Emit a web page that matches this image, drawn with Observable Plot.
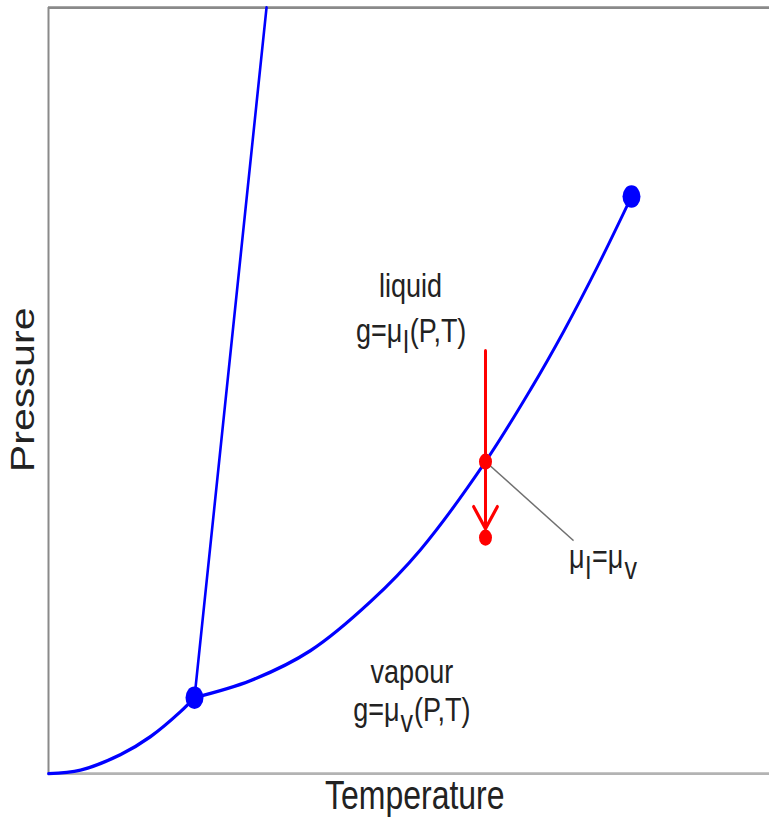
<!DOCTYPE html>
<html>
<head>
<meta charset="utf-8">
<script src="https://cdn.jsdelivr.net/npm/d3@7"></script>
<script src="https://cdn.jsdelivr.net/npm/@observablehq/plot@0.6"></script>
<style>
  html, body { margin: 0; padding: 0; background: #fff; overflow: hidden; }
  #chart { width: 769px; height: 822px; }
</style>
</head>
<body>
<div id="chart"></div>
<script>
// ---- data (Temperature / Pressure in arbitrary units 0..100) ----
const subT = [0, 4.44, 9.99, 14.15, 18.31, 20.25];
const subP = [0, 0.46, 2.48, 4.83, 8.09, 9.92];

const vapT = [20.25, 28.02, 36.34, 44.66, 51.60, 60.61, 66.85, 71.43, 76.14, 80.86];
const vapP = [9.92, 12.14, 16.06, 22.45, 29.24, 40.73, 50.13, 57.70, 66.19, 75.33];

const meltT = [20.25, 30.24];
const meltP = [9.92, 100];

const blueDotT = [20.25, 80.86];   // triple point, critical point
const blueDotP = [9.92, 75.33];

const redDotT = [60.61, 60.61];
const redDotP = [40.73, 30.81];

const arrowT = [60.61, 60.61];     // start, tip
const arrowP = [55.2, 31.98];

const leaderT = [60.61, 72.82];
const leaderP = [40.73, 30.42];

const labelText = ["liquid", "g=μ_l(P,T)", "vapour", "g=μ_v(P,T)", "μ_l=μ_v"];
const labelT = [50.2, 50.3, 50.4, 50.4, 76.9];
const labelP = [63.6, 57.8, 13.3, 8.3, 28.3];

const xLabel = "Temperature";
const yLabel = "Pressure";
const xLabelT = 50.8;
const yLabelP = 50.1;

// ---- build tables ----
const sub = subT.map((t, i) => ({T: t, P: subP[i]}));
const vap = vapT.map((t, i) => ({T: t, P: vapP[i]}));
const melt = meltT.map((t, i) => ({T: t, P: meltP[i]}));
const blueDots = blueDotT.map((t, i) => ({T: t, P: blueDotP[i]}));
const redDots = redDotT.map((t, i) => ({T: t, P: redDotP[i]}));
const arrow = [{T1: arrowT[0], P1: arrowP[0], T2: arrowT[1], P2: arrowP[1]}];
const leader = [{T1: leaderT[0], P1: leaderP[0], T2: leaderT[1], P2: leaderP[1]}];
const labels = labelText.map((s, i) => ({s, T: labelT[i], P: labelP[i]}));

const W = 769, H_OUT = 822, H = 658;
const S = H_OUT / H; // vertical stretch of the original image
const FONT = "'Liberation Sans', Arial, Helvetica, sans-serif";

const plot = Plot.plot({
  width: W,
  height: H,
  marginLeft: 48,
  marginRight: 0,
  marginTop: 7 / S,
  marginBottom: (H_OUT - 773) / S,
  style: {fontFamily: FONT, background: "#fff"},
  x: {domain: [0, 100], axis: null},
  y: {domain: [0, 100], axis: null},
  marks: [
    Plot.ruleY([0], {stroke: "#b3b3b3", strokeWidth: 2.4}),
    Plot.ruleY([100], {stroke: "#8a8a8a", strokeWidth: 2.2}),
    Plot.ruleX([0], {stroke: "#8a8a8a", strokeWidth: 2}),
    Plot.line(sub, {x: "T", y: "P", stroke: "#0000ff", strokeWidth: 2.8, curve: "catmull-rom"}),
    Plot.line(vap, {x: "T", y: "P", stroke: "#0000ff", strokeWidth: 2.8, curve: "catmull-rom"}),
    Plot.line(melt, {x: "T", y: "P", stroke: "#0000ff", strokeWidth: 2.6}),
    Plot.dot(blueDots, {x: "T", y: "P", r: 9, fill: "#0000ff", stroke: "none"}),
    Plot.link(leader, {x1: "T1", y1: "P1", x2: "T2", y2: "P2", stroke: "#707070", strokeWidth: 1.3}),
    Plot.arrow(arrow, {x1: "T1", y1: "P1", x2: "T2", y2: "P2", stroke: "#ff0000", strokeWidth: 3, headLength: 10.6, headAngle: 68}),
    Plot.dot(redDots, {x: "T", y: "P", r: 6.5, fill: "#ff0000", stroke: "none"}),
    Plot.text(labels, {x: "T", y: "P", text: "s", fontSize: 27, fill: "#222", lineAnchor: "middle", textAnchor: "middle"}),
    Plot.text([{s: xLabel, T: xLabelT}], {x: "T", text: "s", frameAnchor: "bottom", dy: 18.4, fontSize: 32, fill: "#222", lineAnchor: "middle", textAnchor: "middle"}),
    Plot.text([{s: yLabel, P: yLabelP}], {y: "P", text: "s", frameAnchor: "left", dx: -25.5, rotate: -90, fontSize: 33, fill: "#222", lineAnchor: "middle", textAnchor: "middle"})
  ]
});

// subscripts (μ_l -> μ with subscript l)
const ns = "http://www.w3.org/2000/svg";
plot.querySelectorAll("text").forEach(t => {
  if (!t.textContent.includes("_")) return;
  const parts = t.textContent.split(/_(\w)/);
  t.textContent = "";
  parts.forEach((p, i) => {
    const ts = document.createElementNS(ns, "tspan");
    if (i % 2 === 1) { ts.setAttribute("dy", 9); ts.setAttribute("font-size", 25); ts.setAttribute("dx", 1); }
    else if (i > 0) { ts.setAttribute("dy", -9); ts.setAttribute("dx", 1); }
    ts.textContent = p;
    t.appendChild(ts);
  });
});

// reproduce the original's vertical stretch
plot.setAttribute("preserveAspectRatio", "none");
plot.setAttribute("width", W);
plot.setAttribute("height", H_OUT);
plot.style.width = W + "px";
plot.style.height = H_OUT + "px";
plot.style.maxWidth = "none";
document.getElementById("chart").appendChild(plot);
</script>
</body>
</html>
